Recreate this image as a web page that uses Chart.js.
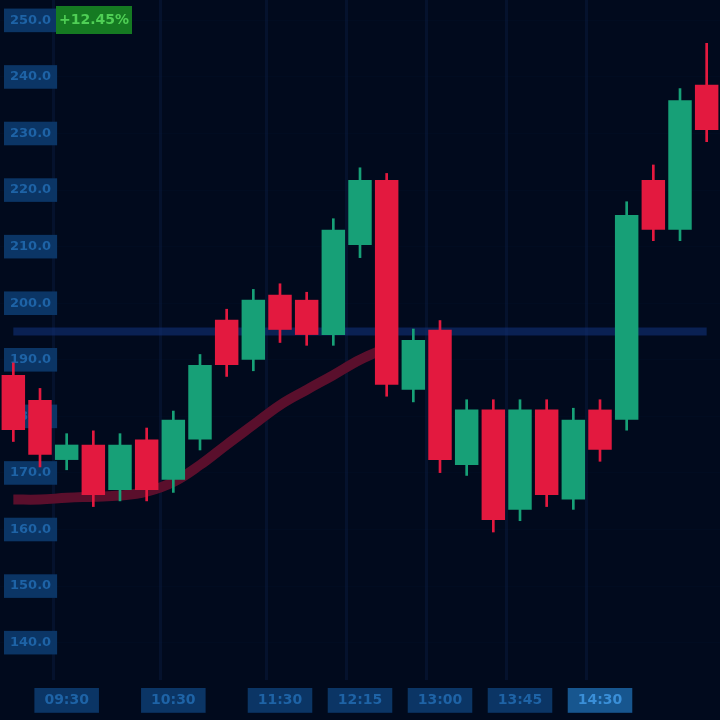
<!DOCTYPE html>
<html>
<head>
<meta charset="utf-8">
<script src="https://cdn.jsdelivr.net/npm/chart.js@4.4.1/dist/chart.umd.min.js"></script>
<style>
  html, body { margin: 0; padding: 0; background: #010a1d; }
  #wrap { width: 720px; height: 720px; }
</style>
</head>
<body>
<div id="wrap"><canvas id="c" width="720" height="720"></canvas></div>
<script>
// ---- data ----
const times = ["09:00","09:15","09:30","09:45","10:00","10:15","10:30","10:45","11:00","11:15","11:30","11:45","12:00","12:15","12:30","12:45","13:00","13:15","13:30","13:45","14:00","14:15","14:30","14:45","15:00","15:15","15:30"];
const opens  = [187.3,182.9,172.3,175.0,167.0,175.9,168.8,175.9,197.1,190.0,201.5,200.6,194.4,210.3,221.8,184.7,195.3,171.4,181.2,163.5,181.2,165.3,181.2,179.4,221.8,213.0,238.6];
const closes = [177.6,173.2,175.0,166.1,175.0,167.0,179.4,189.1,189.1,200.6,195.3,194.4,213.0,221.8,185.6,193.5,172.3,181.2,161.7,181.2,166.1,179.4,174.1,215.6,213.0,235.9,230.6];
const highs  = [189.5,185.0,177.0,177.5,177.0,178.0,181.0,191.0,199.0,202.5,203.5,202.0,215.0,224.0,223.0,195.5,197.0,183.0,183.0,183.0,183.0,181.5,183.0,218.0,224.5,238.0,246.0];
const lows   = [175.5,171.0,170.5,164.0,165.0,165.0,166.5,174.0,187.0,188.0,193.0,192.5,192.5,208.0,183.5,182.5,170.0,169.5,159.5,161.5,164.0,163.5,172.0,177.5,211.0,211.0,228.5];
const movingAvg = [165.3,165.3,165.6,165.8,166.0,166.7,168.4,171.4,175.0,178.5,182.0,184.7,187.3,190.0,192.1,null,null,null,null,null,null,null,null,null,null,null,null];
const levelPrice = 195.0;
const shownTimeIdx = [2,6,10,13,16,19,22];
const highlightIdx = 22;
const changeTag = "+12.45%";
const yMin = 133.4, yMax = 253.6, yStep = 10;

const GREEN = '#17a077', RED = '#e3193f';
const bodyColors = opens.map((o,i) => closes[i] >= o ? GREEN : RED);

const tagPlugin = {
  id: 'tag',
  afterDraw(chart) {
    const ctx = chart.ctx;
    ctx.save();
    ctx.fillStyle = '#157a22';
    ctx.fillRect(56, 6, 76, 28);
    ctx.fillStyle = '#4fcf55';
    ctx.font = 'bold 14px "DejaVu Sans"';
    ctx.textAlign = 'center';
    ctx.textBaseline = 'middle';
    ctx.fillText(changeTag, 94, 20);
    ctx.restore();
  }
};

new Chart(document.getElementById('c'), {
  type: 'bar',
  data: {
    labels: times,
    datasets: [
      {
        type: 'bar', label: 'Body',
        data: opens.map((o,i) => [o, closes[i]]),
        backgroundColor: bodyColors, borderWidth: 0,
        barPercentage: 0.88, categoryPercentage: 1.0, grouped: false, order: 1
      },
      {
        type: 'bar', label: 'Wick',
        data: lows.map((l,i) => [l, highs[i]]),
        backgroundColor: bodyColors, borderWidth: 0,
        barPercentage: 0.1, categoryPercentage: 1.0, grouped: false, order: 2
      },
      {
        type: 'line', label: 'MA',
        data: movingAvg, borderColor: '#5a0f2c', borderWidth: 10,
        pointRadius: 0, tension: 0.4, fill: false, order: 5
      },
      {
        type: 'line', label: 'Level',
        data: times.map(() => levelPrice), borderColor: 'rgba(16,48,120,0.6)', borderWidth: 8,
        pointRadius: 0, fill: false, order: 10
      }
    ]
  },
  options: {
    responsive: false, animation: false,
    layout: { padding: 0 },
    plugins: { legend: { display: false }, tooltip: { enabled: false } },
    scales: {
      x: {
        type: 'category', offset: true,
        grid: {
          color: (c) => shownTimeIdx.includes(c.index) ? 'rgba(30,60,130,0.16)' : 'rgba(0,0,0,0)',
          lineWidth: 3, drawTicks: false
        },
        border: { display: false },
        afterFit(s) { s.height = 40; s.paddingLeft = 0; s.paddingRight = 0; },
        ticks: {
          autoSkip: false, maxRotation: 0, padding: 12,
          color: (c) => c.index === highlightIdx ? '#3a8fd8' : '#1e63a6',
          font: { size: 14, weight: 'bold', family: 'DejaVu Sans' },
          showLabelBackdrop: true,
          backdropColor: (c) => !shownTimeIdx.includes(c.index) ? 'rgba(0,0,0,0)' : (c.index === highlightIdx ? '#17568f' : '#0b3565'),
          backdropPadding: { x: 10, y: 4 },
          callback(v, i) { return shownTimeIdx.includes(i) ? times[i] : ''; }
        }
      },
      y: {
        min: yMin, max: yMax,
        grid: { color: 'rgba(20,45,100,0.07)', drawTicks: false },
        border: { display: false },
        afterFit(s) { s.width = 0; s.paddingTop = 0; s.paddingBottom = 0; },
        afterBuildTicks(s) {
          const t = []; for (let v = 140; v <= 250; v += yStep) t.push({ value: v }); s.ticks = t;
        },
        ticks: {
          mirror: true, padding: 10,
          color: '#1e63a6',
          font: { size: 13, weight: 'bold', family: 'DejaVu Sans' },
          showLabelBackdrop: true, backdropColor: '#0b3565',
          backdropPadding: { x: 6, y: 4 },
          callback(v) { return v.toFixed(1); }
        }
      }
    }
  },
  plugins: [tagPlugin]
});
</script>
</body>
</html>
